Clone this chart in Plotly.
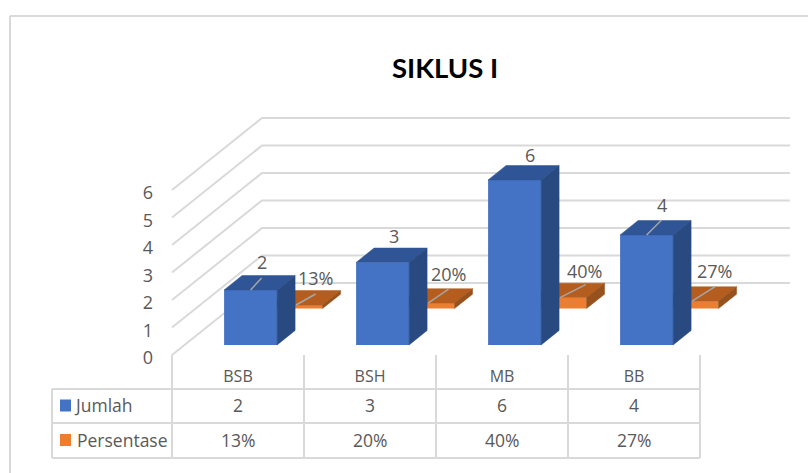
import plotly.graph_objects as go

# ---- data ----
categories = ["BSB", "BSH", "MB", "BB"]
jumlah = [2, 3, 6, 4]
persentase = [0.13, 0.20, 0.40, 0.27]
y_ticks = [0, 1, 2, 3, 4, 5, 6]
series_names = ["Jumlah", "Persentase"]

# ---- geometry (pixels of the 808x473 page) ----
W, H = 808, 473
X0, Y0 = 172, 355        # front-left floor corner
CAT_PX, VAL_PX = 132, 27.5
DEPTH_X, DEPTH_Y = 90, 72
DX = DEPTH_X / CAT_PX
DY = DEPTH_Y / VAL_PX
BAR_W = 53 / CAT_PX
BAR_D = 0.2
D_BLUE, D_ORANGE = 0.14, 0.645
GRID = "#d9d9d9"
TXT = "#595959"
FONT = "Open Sans"
FS = 16
FS_TABLE = 17.5
FS_LABEL = 18

xr = [-X0 / CAT_PX, (W - X0) / CAT_PX]
yr = [-(H - Y0) / VAL_PX, Y0 / VAL_PX]


def py_paper(p):
    return 1 - p / H


def proj(c, v, d):
    return c + d * DX, v + d * DY


def bar_faces(values, d):
    tx, ty, sx, sy = [], [], [], []
    for i, v in enumerate(values):
        l, r = i + 0.5 - BAR_W / 2, i + 0.5 + BAR_W / 2
        top = [proj(l, v, d), proj(r, v, d), proj(r, v, d + BAR_D), proj(l, v, d + BAR_D), proj(l, v, d)]
        side = [proj(r, 0, d), proj(r, v, d), proj(r, v, d + BAR_D), proj(r, 0, d + BAR_D), proj(r, 0, d)]
        tx += [p[0] for p in top] + [None]
        ty += [p[1] for p in top] + [None]
        sx += [p[0] for p in side] + [None]
        sy += [p[1] for p in side] + [None]
    return tx, ty, sx, sy


fig = go.Figure()

# walls: one polyline per gridline value
for v in y_ticks:
    a, b = proj(0, v, 0), proj(0, v, 1)
    c = proj(len(categories), v, 1)
    fig.add_trace(go.Scatter(x=[a[0], b[0], c[0]], y=[a[1], b[1], c[1]], mode="lines",
                             line=dict(color=GRID, width=2), hoverinfo="skip", showlegend=False))


def add_series(values, d, name, front, top, side, xa, ya):
    bx = [i + 0.5 + d * DX for i in range(len(values))]
    fig.add_trace(go.Bar(x=bx, y=values, base=[d * DY] * len(values), width=BAR_W, name=name,
                         marker=dict(color=front, line=dict(width=0)), xaxis=xa, yaxis=ya, showlegend=False))
    tx, ty, sx, sy = bar_faces(values, d)
    for fx, fy, col in ((tx, ty, top), (sx, sy, side)):
        fig.add_trace(go.Scatter(x=fx, y=fy, mode="lines", fill="toself", fillcolor=col,
                                 line=dict(color=col, width=0.5), xaxis=xa, yaxis=ya,
                                 hoverinfo="skip", showlegend=False))


add_series(persentase, D_ORANGE, series_names[1], "#ED7D31", "#B45D1F", "#96511C", "x2", "y2")
add_series(jumlah, D_BLUE, series_names[0], "#4472C4", "#2F5597", "#284A80", "x3", "y3")

# data labels and leader lines, anchored on the bar tops
label_nudge_blue = [(11, 28), (11, 26), (15, 25), (15, 30)]
label_nudge_orange = [(19.5, 27), (20.5, 29.5), (24.5, 27), (22.5, 30.6)]
leader_blue = [(11, 12), None, None, (15, 15)]
leader_orange = [(19.5, 11), (20.5, 14), (25.5, 13), (23, 14.6)]


def add_labels(values, d, nudges, leaders, fmt):
    for i, v in enumerate(values):
        cx, cy = proj(i + 0.5, v, d)
        nx, ny = nudges[i]
        fig.add_annotation(x=cx, y=cy, xref="x", yref="y", text=fmt(v), showarrow=False, yanchor="middle",
                           xshift=nx, yshift=ny, font=dict(family=FONT, size=FS_LABEL, color=TXT))
        if leaders[i]:
            lx, ly = leaders[i]
            fig.add_trace(go.Scatter(x=[cx, cx + lx / CAT_PX], y=[cy, cy + ly / VAL_PX], mode="lines",
                                     line=dict(color="#a6a6a6", width=1.5), xaxis="x3", yaxis="y3",
                                     hoverinfo="skip", showlegend=False))


def pct(v):
    return f"{round(v * 100)}%"


add_labels(jumlah, D_BLUE, label_nudge_blue, leader_blue, str)
add_labels(persentase, D_ORANGE, label_nudge_orange, leader_orange, pct)

# chart frame (no bottom or right edge visible inside the crop)
shapes = [
    dict(type="line", xref="paper", yref="paper", x0=10 / W, x1=10 / W, y0=0, y1=py_paper(16),
         line=dict(color=GRID, width=2)),
    dict(type="line", xref="paper", yref="paper", x0=10 / W, x1=1, y0=py_paper(16), y1=py_paper(16),
         line=dict(color=GRID, width=2)),
]

# data table
ROW_TOP, ROW_MID, ROW_BOT = 389, 423, 458
TABLE_L = 52
n = len(categories)
for py in (ROW_TOP, ROW_MID, ROW_BOT):
    shapes.append(dict(type="line", xref="paper", yref="paper", x0=TABLE_L / W,
                       x1=(X0 + n * CAT_PX) / W, y0=py_paper(py), y1=py_paper(py),
                       line=dict(color=GRID, width=2)))
shapes.append(dict(type="line", xref="paper", yref="paper", x0=TABLE_L / W, x1=TABLE_L / W,
                   y0=py_paper(ROW_TOP), y1=py_paper(ROW_BOT), line=dict(color=GRID, width=2)))
for i in range(n + 1):
    shapes.append(dict(type="line", xref="x", yref="paper", x0=i, x1=i, y0=py_paper(Y0), y1=py_paper(ROW_BOT),
                       line=dict(color=GRID, width=2)))
# legend keys
for (py, col) in ((405.5, "#4472C4"), (440, "#ED7D31")):
    shapes.append(dict(type="rect", xref="paper", yref="paper", x0=60 / W, x1=71 / W,
                       y0=py_paper(py + 6), y1=py_paper(py - 6), fillcolor=col, line=dict(width=0)))

row_y = [405, 440]
row_label_x = [72, 75]
rows = [[str(v) for v in jumlah], [pct(v) for v in persentase]]
for r, (name, cells) in enumerate(zip(series_names, rows)):
    fig.add_annotation(x=row_label_x[r] / W, y=py_paper(row_y[r]), xref="paper", yref="paper", text=name,
                       xanchor="left", yanchor="middle", showarrow=False,
                       font=dict(family=FONT, size=FS_TABLE, color=TXT))
    for i, t in enumerate(cells):
        fig.add_annotation(x=i + 0.5, y=py_paper(row_y[r]), xref="x", yref="paper", text=t, yanchor="middle",
                           showarrow=False, font=dict(family=FONT, size=FS_TABLE, color=TXT))

axis_off = dict(visible=False, fixedrange=True)
fig.update_layout(
    width=W, height=H, margin=dict(l=0, r=0, t=0, b=0), autosize=False,
    paper_bgcolor="white", plot_bgcolor="white", barmode="overlay", showlegend=False,
    title=dict(text="<b>SIKLUS I</b>", x=445 / W, xanchor="center", y=py_paper(68), yanchor="middle",
               font=dict(family="Lato", size=27.5, color="#000000")),
    xaxis=dict(range=xr, domain=[0, 1], anchor="free", position=py_paper(365), tickmode="array",
               tickvals=[i + 0.5 for i in range(n)], ticktext=categories, showgrid=False, zeroline=False,
               showline=False, ticks="", tickfont=dict(family=FONT, size=FS, color=TXT), fixedrange=True),
    yaxis=dict(range=yr, domain=[0, 1], anchor="free", position=153 / W, tickmode="array", tickvals=y_ticks,
               showgrid=False, zeroline=False, showline=False, ticks="", ticklabelshift=3,
               tickfont=dict(family=FONT, size=FS_LABEL, color=TXT), fixedrange=True),
    xaxis2=dict(range=xr, overlaying="x", **axis_off),
    yaxis2=dict(range=yr, overlaying="y", **axis_off),
    xaxis3=dict(range=xr, overlaying="x", **axis_off),
    yaxis3=dict(range=yr, overlaying="y", **axis_off),
    shapes=shapes,
)

fig.write_html("out.html", config=dict(displayModeBar=False),
               post_script="document.body.style.margin='0';document.body.style.overflow='hidden';")
